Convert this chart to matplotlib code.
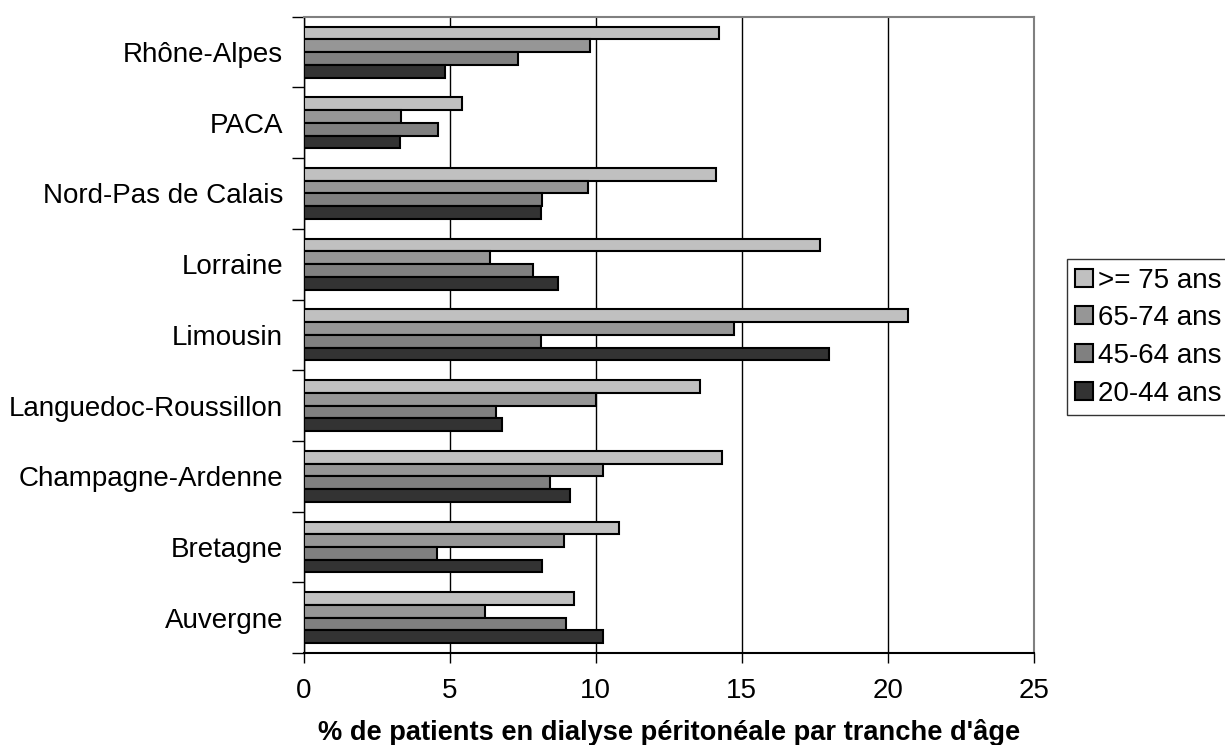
import numpy as np
import matplotlib
matplotlib.use('Agg')
import matplotlib.pyplot as plt

plt.rcParams['font.family'] = ['Liberation Sans', 'DejaVu Sans']

# regions, du bas vers le haut
regions = ['Auvergne', 'Bretagne', 'Champagne-Ardenne', 'Languedoc-Roussillon',
           'Limousin', 'Lorraine', 'Nord-Pas de Calais', 'PACA', 'Rhône-Alpes']

ans_75 = [9.25, 10.80, 14.33, 13.55, 20.68, 17.67, 14.11, 5.42, 14.22]
ans_65_74 = [6.21, 8.90, 10.24, 9.99, 14.74, 6.37, 9.73, 3.32, 9.79]
ans_45_64 = [8.98, 4.57, 8.44, 6.57, 8.13, 7.84, 8.17, 4.59, 7.33]
ans_20_44 = [10.23, 8.17, 9.12, 6.80, 17.99, 8.72, 8.12, 3.30, 4.85]

series = [('>= 75 ans', ans_75, '#c0c0c0'),
          ('65-74 ans', ans_65_74, '#969696'),
          ('45-64 ans', ans_45_64, '#808080'),
          ('20-44 ans', ans_20_44, '#333333')]

fig = plt.figure(figsize=(12.25, 7.45), dpi=100)
ax = fig.add_axes([0.248, 0.1235, 0.596, 0.854])

y = np.arange(len(regions))
h = 0.18
offsets = [0.27, 0.09, -0.09, -0.27]
for (nom, vals, col), off in zip(series, offsets):
    ax.barh(y + off, vals, height=h, color=col, edgecolor='black',
            linewidth=1.5, label=nom, zorder=3)

ax.set_xlim(0, 25)
ax.set_ylim(-0.5, len(regions) - 0.5)
ax.set_xticks([0, 5, 10, 15, 20, 25])
ax.tick_params(axis='x', direction='out', length=7, width=1, pad=11, labelsize=20)
ax.xaxis.grid(True, color='black', linewidth=1, zorder=0)

# traits entre les categories, libelles au centre
ax.set_yticks(np.arange(-0.5, len(regions), 1.0))
ax.set_yticklabels([])
ax.set_yticks(y, minor=True)
ax.set_yticklabels(regions, minor=True, fontsize=20)
ax.tick_params(axis='y', which='major', length=9, width=1)
ax.tick_params(axis='y', which='minor', length=0, pad=15)

for s in ['top', 'right']:
    ax.spines[s].set_color('#808080')
    ax.spines[s].set_linewidth(1.5)
ax.spines['left'].set_linewidth(1)
ax.spines['bottom'].set_linewidth(1.5)

ax.set_xlabel("% de patients en dialyse péritonéale par tranche d'âge",
              fontsize=19.6, fontweight='bold', labelpad=11)

leg = fig.legend(loc='upper left', bbox_to_anchor=(0.871, 0.652), fontsize=20,
                 frameon=True, fancybox=False, edgecolor='black',
                 handlelength=0.62, handleheight=0.62, handletextpad=0.2,
                 labelspacing=0.42, borderpad=0.3, borderaxespad=0)
leg.get_frame().set_linewidth(1)

plt.savefig('out.png', dpi=100)
